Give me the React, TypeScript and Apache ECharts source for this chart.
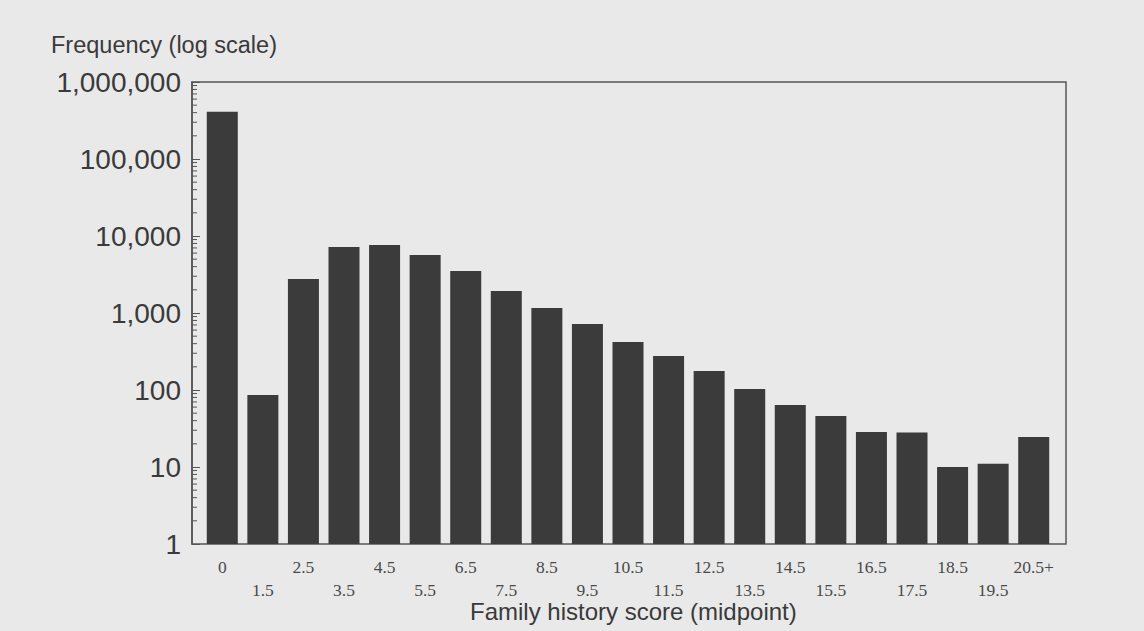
import React, { useEffect, useRef } from "react";
import * as echarts from "echarts";

const categories = ["0", "1.5", "2.5", "3.5", "4.5", "5.5", "6.5", "7.5", "8.5", "9.5", "10.5", "11.5", "12.5", "13.5", "14.5", "15.5", "16.5", "17.5", "18.5", "19.5", "20.5+"];
const frequencies = [410000, 86, 2760, 7200, 7650, 5650, 3500, 1930, 1160, 720, 420, 277, 177, 103, 64, 46, 28.5, 28, 10, 11, 24.5];
const yMin = 1;
const yMax = 1000000;
const yTitle = "Frequency (log scale)";
const xTitle = "Family history score (midpoint)";

// minor tick values of the log axis (2..9 in each decade)
const minorTickValues: number[] = [];
for (let d = 1; d < yMax; d *= 10) {
  for (let k = 2; k <= 9; k++) minorTickValues.push(k * d);
}

export default function App() {
  const ref = useRef<HTMLDivElement>(null);
  useEffect(() => {
    document.body.style.margin = "0";
    const chart = echarts.init(ref.current!, null, { renderer: "svg" });
    const textColor = "#3a3a3a";
    const frameColor = "#555";
    chart.setOption({
      animation: false,
      backgroundColor: "#e9e9e9",
      grid: [
        { left: 192, right: 78, top: 82, bottom: 87, show: true, borderColor: frameColor, borderWidth: 1.5, backgroundColor: "transparent" },
        { left: 202, right: 90, top: 82, bottom: 87 },
      ],
      xAxis: [
        { type: "value", gridIndex: 0, min: 0, max: 1, show: false },
        {
          type: "category",
          gridIndex: 1,
          data: categories,
          boundaryGap: true,
          axisLine: { show: false },
          axisTick: { show: false },
          axisLabel: {
            interval: 0,
            margin: 11,
            color: "#4a4a4a",
            fontFamily: "Liberation Serif",
            fontSize: 17.5,
            lineHeight: 23,
            formatter: (v: string, i: number) => (i % 2 === 1 ? "\n" + v : v),
          },
        },
      ],
      yAxis: [
        {
          type: "log",
          gridIndex: 0,
          logBase: 10,
          min: yMin,
          max: yMax,
          axisLine: { show: true, lineStyle: { color: frameColor, width: 1.5 } },
          axisTick: { show: true, inside: true, length: 8, lineStyle: { color: frameColor } },
          splitLine: { show: false },
          axisLabel: {
            margin: 11,
            color: textColor,
            fontFamily: "Liberation Sans",
            fontSize: 28,
            formatter: (v: number) => Math.round(v).toLocaleString("en-US"),
          },
        },
        { type: "log", gridIndex: 1, logBase: 10, min: yMin, max: yMax, show: false },
      ],
      graphic: [
        {
          type: "text",
          left: 51,
          top: 33,
          style: { text: yTitle, fill: textColor, font: "23.5px 'Liberation Sans'" },
        },
        {
          type: "text",
          left: 470,
          top: 599,
          style: { text: xTitle, fill: textColor, font: "24px 'Liberation Sans'" },
        },
      ],
      series: [
        {
          type: "bar",
          xAxisIndex: 1,
          yAxisIndex: 1,
          data: frequencies,
          barWidth: 31,
          itemStyle: { color: "#3b3b3b" },
        },
        {
          type: "custom",
          xAxisIndex: 0,
          yAxisIndex: 0,
          data: minorTickValues.map((v) => [0, v]),
          encode: { x: 0, y: 1 },
          clip: false,
          silent: true,
          renderItem: (params: any, api: any) => {
            const y = api.coord([0, api.value(1)])[1];
            const x = params.coordSys.x;
            return {
              type: "line",
              shape: { x1: x, y1: y, x2: x + 5, y2: y },
              style: { stroke: frameColor, lineWidth: 1 },
            };
          },
        },
      ],
    });
    return () => chart.dispose();
  }, []);
  return <div ref={ref} style={{ position: "fixed", left: 0, top: 0, width: 1144, height: 631 }} />;
}
